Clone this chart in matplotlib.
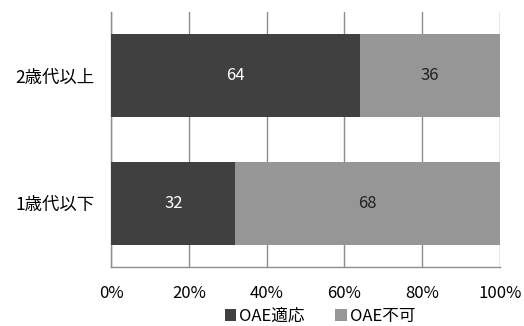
import numpy as np
import matplotlib
matplotlib.use('Agg')
import matplotlib.pyplot as plt

plt.rcParams['font.family'] = ['Noto Sans CJK JP', 'DejaVu Sans']

# データ
categories = ['1歳代以下', '2歳代以上']
oae_ok = [32, 64]
oae_ng = [68, 36]
series_names = ['OAE適応', 'OAE不可']
xticks = [0, 20, 40, 60, 80, 100]
xtick_labels = ['0%', '20%', '40%', '60%', '80%', '100%']

c_dark = '#404040'
c_light = '#969696'

fig = plt.figure(figsize=(5.24, 3.26), dpi=100)
ax = fig.add_axes([111 / 524, 59 / 326, 389 / 524, 255 / 326])

y = np.arange(len(categories))
ax.barh(y, oae_ok, height=0.65, color=c_dark, label=series_names[0], zorder=3)
ax.barh(y, oae_ng, left=oae_ok, height=0.65, color=c_light, label=series_names[1], zorder=3)

# 値ラベル
for i in range(len(categories)):
    ax.text(oae_ok[i] / 2, y[i], str(oae_ok[i]), ha='center', va='center',
            color='white', fontsize=12, zorder=4)
    ax.text(oae_ok[i] + oae_ng[i] / 2, y[i], str(oae_ng[i]), ha='center', va='center',
            color='#222222', fontsize=12, zorder=4)

ax.set_xlim(0, 100)
ax.set_ylim(-0.5, 1.5)
ax.set_xticks(xticks)
ax.set_xticklabels(xtick_labels, fontsize=12)
ax.set_yticks(y)
ax.set_yticklabels(categories, fontsize=12.5)
ax.tick_params(axis='x', length=0, pad=13)
ax.tick_params(axis='y', length=0, pad=12)

ax.grid(axis='x', color='#8c8c8c', linewidth=1, zorder=1)
for s in ['top', 'right']:
    ax.spines[s].set_visible(False)
for s in ['left', 'bottom']:
    ax.spines[s].set_color('#8c8c8c')
    ax.spines[s].set_linewidth(1)

fig.legend(loc='center', bbox_to_anchor=(320 / 524, 1 - 316 / 326), ncol=2, frameon=False,
           fontsize=12, handlelength=0.7, handleheight=0.7, handletextpad=0.2,
           columnspacing=1.8, borderpad=0)

plt.savefig('out.png', dpi=100)
